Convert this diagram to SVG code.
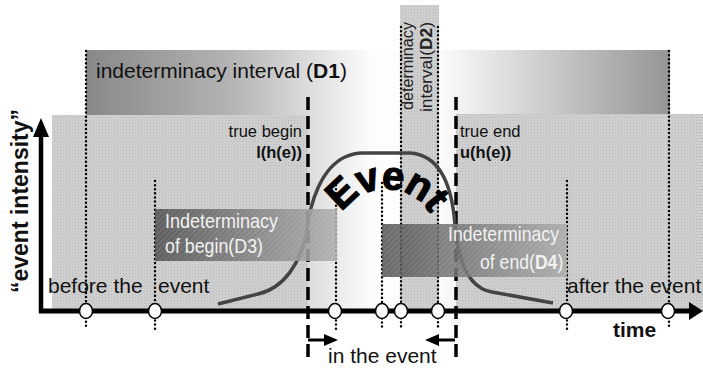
<svg xmlns="http://www.w3.org/2000/svg" width="703" height="369" viewBox="0 0 703 369">
<defs>
<style>
text{font-family:"Liberation Sans",Arial,sans-serif;}
.dot{stroke:#000;stroke-width:2.4;stroke-linecap:round;stroke-dasharray:0.1 4;fill:none;}
.dash{stroke:#000;stroke-width:3.5;stroke-dasharray:13 6;fill:none;}
.circ{fill:#fff;stroke:#000;stroke-width:1.5;}
.lbl{font-size:21px;fill:#111;}
.small{font-size:16.5px;fill:#111;}
.boxt{font-size:21px;fill:#f2f2f2;}
</style>
<linearGradient id="d1" x1="86" y1="0" x2="670" y2="0" gradientUnits="userSpaceOnUse">
<stop offset="0" stop-color="#888"/>
<stop offset="0.25" stop-color="#b4b4b4"/>
<stop offset="0.49" stop-color="#fdfdfd"/>
<stop offset="0.6" stop-color="#fdfdfd"/>
<stop offset="1" stop-color="#959595"/>
</linearGradient>
<linearGradient id="d3g" x1="0" y1="0" x2="1" y2="0">
<stop offset="0" stop-color="#4e4e4e"/>
<stop offset="1" stop-color="#acacac"/>
</linearGradient>
<linearGradient id="d4g" x1="0" y1="0" x2="1" y2="0">
<stop offset="0" stop-color="#4e4e4e"/>
<stop offset="1" stop-color="#a8a8a8"/>
</linearGradient>
<pattern id="stip" width="3" height="3" patternUnits="userSpaceOnUse">
<rect width="3" height="3" fill="#d2d2d2"/>
<rect width="1" height="1" fill="#b2b2b2"/>
<rect x="1.5" y="1.5" width="1" height="1" fill="#bababa"/>
</pattern>
<pattern id="hatch" width="4" height="4" patternUnits="userSpaceOnUse" patternTransform="rotate(45)">
<rect width="1.5" height="4" fill="#fff" fill-opacity="0.1"/>
</pattern>
<path id="arc" d="M 334,241 A 52 52 0 0 1 438,241"/>
</defs>
<rect width="703" height="369" fill="#fff"/>

<g id="D1-band">
<rect x="86" y="50" width="584" height="261" fill="url(#d1)"/>
</g>
<g id="regions">
<rect x="52" y="115" width="256" height="196" fill="url(#stip)"/>
<rect x="456" y="114" width="247" height="197" fill="url(#stip)"/>
</g>
<g id="D2-strip">
<rect x="400" y="5" width="39" height="306" fill="url(#stip)"/>
</g>

<g id="connectors">
<line class="dash" x1="308" y1="97" x2="308" y2="360"/>
<line class="dash" x1="456" y1="97" x2="456" y2="360"/>
<line class="dot" x1="86" y1="51" x2="86" y2="329"/>
<line class="dot" x1="155" y1="181" x2="155" y2="330"/>
<line class="dot" x1="336" y1="181" x2="336" y2="329"/>
<line class="dot" x1="382" y1="183" x2="382" y2="329"/>
<line class="dot" x1="401" y1="27" x2="401" y2="329"/>
<line class="dot" x1="438" y1="27" x2="438" y2="329"/>
<line class="dot" x1="567" y1="181" x2="567" y2="329"/>
<line class="dot" x1="669" y1="51" x2="669" y2="329"/>
<path d="M 218,304 L 258,294 C 285,288 300,262 306,235 C 310,200 322,168 345,157 C 352,154 356,153 362,153 L 410,153 C 440,155 452,185 455,225 C 458,262 468,288 492,292 L 553,303" fill="none" stroke="#444" stroke-width="3.5"/>
<line x1="308" y1="340" x2="326" y2="340" stroke="#000" stroke-width="3"/>
<polygon points="324,334 338,340 324,346" fill="#000"/>
<line x1="437" y1="340" x2="455" y2="340" stroke="#000" stroke-width="3"/>
<polygon points="439,334 425,340 439,346" fill="#000"/>
</g>

<g id="D3">
<rect x="155" y="209" width="182" height="52" fill="url(#d3g)" opacity="0.88"/>
<rect x="155" y="209" width="182" height="52" fill="url(#hatch)"/>
<text class="boxt" x="165" y="228" textLength="113" lengthAdjust="spacingAndGlyphs">Indeterminacy</text>
<text class="boxt" x="165" y="253" textLength="98" lengthAdjust="spacingAndGlyphs">of begin(D3)</text>
</g>
<g id="D4">
<rect x="382" y="224" width="185" height="53" fill="url(#d4g)" opacity="0.85"/>
<rect x="382" y="224" width="185" height="53" fill="url(#hatch)"/>
<text class="boxt" x="448" y="241" textLength="111" lengthAdjust="spacingAndGlyphs">Indeterminacy</text>
<text class="boxt" transform="translate(480,269) scale(0.84,1)">of end(<tspan font-weight="bold">D4</tspan>)</text>
</g>

<g id="event-label">
<text font-family="'DejaVu Sans',sans-serif" font-weight="bold" font-size="40" letter-spacing="-1" fill="#000" stroke="#000" stroke-width="1.2" stroke-linejoin="round"><textPath href="#arc" startOffset="50%" text-anchor="middle">Event</textPath></text>
</g>

<g id="axes">
<line x1="41" y1="313" x2="41" y2="134" stroke="#000" stroke-width="4.5"/>
<polygon points="33,137 41,118 49,137" fill="#000"/>
<line x1="39" y1="311" x2="691" y2="311" stroke="#000" stroke-width="5"/>
<polygon points="689,302 703,311 689,320" fill="#000"/>
</g>

<g id="points">
<ellipse class="circ" cx="86" cy="311" rx="6.5" ry="7.5"/>
<ellipse class="circ" cx="155" cy="311" rx="6.5" ry="7.5"/>
<ellipse class="circ" cx="335" cy="311" rx="6.5" ry="7.5"/>
<ellipse class="circ" cx="382" cy="311" rx="6.5" ry="7.5"/>
<ellipse class="circ" cx="401" cy="311" rx="6.5" ry="7.5"/>
<ellipse class="circ" cx="438" cy="311" rx="6.5" ry="7.5"/>
<ellipse class="circ" cx="566" cy="311" rx="6.5" ry="7.5"/>
<ellipse class="circ" cx="668" cy="311" rx="6.5" ry="7.5"/>
</g>

<g id="labels">
<text class="lbl" x="96" y="78">indeterminacy interval (<tspan font-weight="bold">D1</tspan>)</text>
<text class="small" x="302" y="137" text-anchor="end">true begin</text>
<text class="small" x="302" y="158" text-anchor="end" font-weight="bold">l(h(e))</text>
<text class="small" x="460" y="137">true end</text>
<text class="small" x="460" y="158" font-weight="bold">u(h(e))</text>
<text class="lbl" x="48" y="293">before the <tspan x="158">event</tspan></text>
<text class="lbl" x="567" y="293">after the event</text>
<text class="lbl" x="613" y="337" font-weight="bold" font-size="23">time</text>
<text class="lbl" x="328" y="363">in the event</text>
<text font-size="23" font-weight="bold" fill="#111" transform="translate(28,201) rotate(-90)" text-anchor="middle">“event intensity”</text>
<text font-size="16" fill="#222" transform="translate(413,110) rotate(-90)" textLength="88" lengthAdjust="spacingAndGlyphs">determinacy</text>
<text font-size="17" fill="#222" transform="translate(432,112) rotate(-90)" textLength="90" lengthAdjust="spacingAndGlyphs">interval(<tspan font-weight="bold">D2</tspan>)</text>
</g>
</svg>
